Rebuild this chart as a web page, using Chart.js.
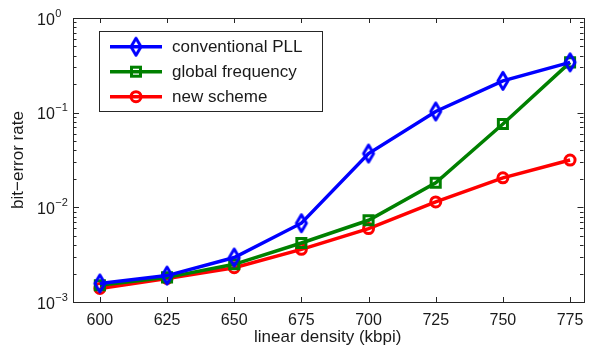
<!DOCTYPE html>
<html>
<head>
<meta charset="utf-8">
<script src="https://cdn.jsdelivr.net/npm/chart.js@4"></script>
<style>
  html, body { margin: 0; padding: 0; background: #fff; }
  canvas { display: block; }
</style>
</head>
<body>
<canvas id="berChart" width="595" height="347"></canvas>
<script>
// Chart data
const density = [600, 625, 650, 675, 700, 725, 750, 775];
const conventionalPLL = [1.57e-3, 1.9e-3, 2.95e-3, 6.8e-3, 0.037, 0.103, 0.217, 0.34];
const globalFrequency = [1.5e-3, 1.82e-3, 2.5e-3, 4.2e-3, 7.3e-3, 0.0182, 0.076, 0.34];
const newScheme = [1.39e-3, 1.77e-3, 2.3e-3, 3.6e-3, 5.96e-3, 0.0114, 0.0205, 0.0316];
const xTicks = [600, 625, 650, 675, 700, 725, 750, 775];
const yDecades = [-3, -2, -1, 0];

const seriesNames = ['conventional PLL', 'global frequency', 'new scheme'];
const seriesColors = ['#0000ff', '#008000', '#ff0000'];

const AXIS_COLOR = '#262626';
const TEXT_COLOR = '#1a1a1a';
const FONT = '"Liberation Sans", Arial, Helvetica, sans-serif';
const LINE_W = 3.5;
const MARK_W = 3;

// Hollow, slightly tall diamond marker (matlab style)
function makeDiamond(color) {
  const c = document.createElement('canvas');
  c.width = 16;
  c.height = 24;
  const g = c.getContext('2d');
  g.strokeStyle = color;
  g.lineWidth = MARK_W;
  g.lineJoin = 'round';
  g.beginPath();
  g.moveTo(8, 3.5);
  g.lineTo(13, 12);
  g.lineTo(8, 20.5);
  g.lineTo(3, 12);
  g.closePath();
  g.stroke();
  return c;
}
const diamond = makeDiamond(seriesColors[0]);

// Axes box, inward ticks, tick labels, titles and legend
const matlabAxes = {
  id: 'matlabAxes',
  afterDraw(chart) {
    const ctx = chart.ctx;
    const area = chart.chartArea;
    const xs = chart.scales.x;
    const ys = chart.scales.y;
    ctx.save();

    ctx.strokeStyle = AXIS_COLOR;
    ctx.lineWidth = 1;
    ctx.strokeRect(Math.round(area.left) + 0.5, Math.round(area.top) + 0.5,
      Math.round(area.right - area.left), Math.round(area.bottom - area.top));

    // x ticks
    ctx.beginPath();
    xTicks.forEach(v => {
      const px = Math.round(xs.getPixelForValue(v)) + 0.5;
      ctx.moveTo(px, area.bottom);
      ctx.lineTo(px, area.bottom - 5);
      ctx.moveTo(px, area.top);
      ctx.lineTo(px, area.top + 5);
    });
    // y ticks, major and minor
    yDecades.forEach(d => {
      for (let m = 1; m <= 9; m++) {
        const v = m * Math.pow(10, d);
        if (v > ys.max * 1.0001) break;
        const py = Math.round(ys.getPixelForValue(v)) + 0.5;
        const len = m === 1 ? 6 : 3.5;
        ctx.moveTo(area.left, py);
        ctx.lineTo(area.left + len, py);
        ctx.moveTo(area.right, py);
        ctx.lineTo(area.right - len, py);
      }
    });
    ctx.stroke();

    ctx.fillStyle = TEXT_COLOR;
    // x tick labels
    ctx.font = '16px ' + FONT;
    ctx.textAlign = 'center';
    ctx.textBaseline = 'alphabetic';
    xTicks.forEach(v => {
      ctx.fillText(String(v), xs.getPixelForValue(v), area.bottom + 23);
    });

    // y tick labels 10^k
    yDecades.forEach(d => {
      const py = ys.getPixelForValue(Math.pow(10, d));
      ctx.textAlign = 'left';
      ctx.font = '16px ' + FONT;
      ctx.fillText('10', 37, py + 6.5);
      const w = ctx.measureText('10').width;
      ctx.font = '11px ' + FONT;
      ctx.fillText(d < 0 ? '\u2212' + Math.abs(d) : String(d), 37 + w + 0.5, py - 1.5);
    });

    // axis titles
    ctx.font = '17px ' + FONT;
    ctx.textAlign = 'center';
    ctx.textBaseline = 'middle';
    ctx.fillText('linear density (kbpi)', (area.left + area.right) / 2 - 0.5, 337);
    ctx.save();
    ctx.translate(18.5, 160);
    ctx.rotate(-Math.PI / 2);
    ctx.fillText('bit\u2212error rate', 0, 0);
    ctx.restore();

    // legend
    const lx = 99.5, ly = 31.5, lw = 223, lh = 80;
    ctx.fillStyle = '#fff';
    ctx.fillRect(lx, ly, lw, lh);
    ctx.strokeStyle = AXIS_COLOR;
    ctx.lineWidth = 1;
    ctx.strokeRect(lx, ly, lw, lh);
    seriesNames.forEach((name, i) => {
      const y = 46.7 + i * 25;
      const color = seriesColors[i];
      ctx.strokeStyle = color;
      ctx.lineWidth = LINE_W;
      ctx.beginPath();
      ctx.moveTo(110, y);
      ctx.lineTo(162, y);
      ctx.stroke();
      ctx.lineWidth = MARK_W;
      if (i === 0) {
        ctx.drawImage(diamond, 136 - diamond.width / 2, y - diamond.height / 2);
      } else if (i === 1) {
        ctx.strokeRect(136 - 4.5, y - 4.5, 9, 9);
      } else {
        ctx.beginPath();
        ctx.arc(136, y, 5, 0, Math.PI * 2);
        ctx.stroke();
      }
      ctx.fillStyle = TEXT_COLOR;
      ctx.font = '17px ' + FONT;
      ctx.textAlign = 'left';
      ctx.textBaseline = 'middle';
      ctx.fillText(name, 172, y + 0.5);
    });

    ctx.restore();
  }
};

function toPoints(values) {
  return density.map((x, i) => ({ x: x, y: values[i] }));
}

const ctx = document.getElementById('berChart').getContext('2d');
new Chart(ctx, {
  type: 'line',
  data: {
    datasets: [
      {
        label: seriesNames[0],
        data: toPoints(conventionalPLL),
        borderColor: seriesColors[0],
        borderWidth: LINE_W,
        pointStyle: diamond,
        pointRadius: 8,
        backgroundColor: 'transparent',
      },
      {
        label: seriesNames[1],
        data: toPoints(globalFrequency),
        borderColor: seriesColors[1],
        borderWidth: LINE_W,
        pointStyle: 'rect',
        pointRadius: 6.4,
        pointBorderWidth: MARK_W,
        pointBackgroundColor: 'transparent',
        backgroundColor: 'transparent',
      },
      {
        label: seriesNames[2],
        data: toPoints(newScheme),
        borderColor: seriesColors[2],
        borderWidth: LINE_W,
        pointStyle: 'circle',
        pointRadius: 5,
        pointBorderWidth: MARK_W,
        pointBackgroundColor: 'transparent',
        backgroundColor: 'transparent',
      },
    ],
  },
  options: {
    responsive: false,
    animation: false,
    clip: false,
    layout: { padding: { top: 18, right: 7, left: 0, bottom: 0 } },
    plugins: {
      legend: { display: false },
      tooltip: { enabled: false },
    },
    scales: {
      x: {
        type: 'linear',
        min: 590,
        max: 780,
        grid: { display: false },
        border: { display: false },
        ticks: { display: false },
        afterFit(scale) { scale.height = 45; },
      },
      y: {
        type: 'logarithmic',
        min: 1e-3,
        max: 1,
        grid: { display: false },
        border: { display: false },
        ticks: { display: false },
        afterFit(scale) { scale.width = 73; },
      },
    },
  },
  plugins: [matlabAxes],
});
</script>
</body>
</html>
